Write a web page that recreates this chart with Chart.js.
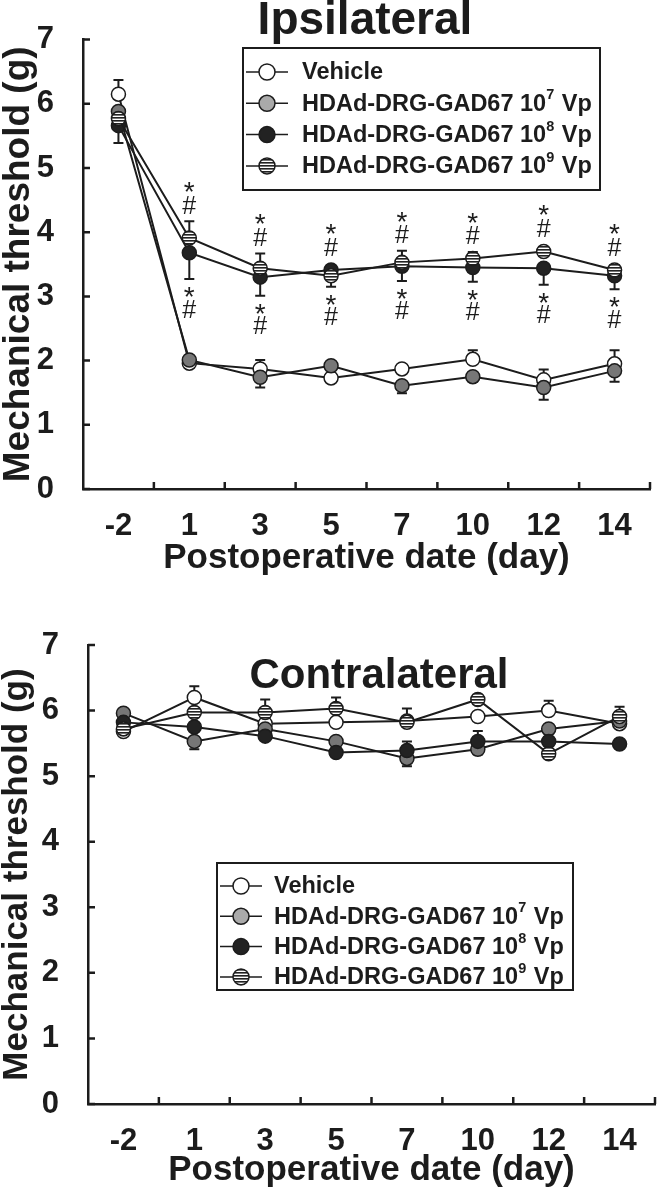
<!DOCTYPE html>
<html>
<head>
<meta charset="utf-8">
<script src="https://cdn.jsdelivr.net/npm/chart.js@4.4.0/dist/chart.umd.min.js"></script>
<style>
  body { margin: 0; background: #fff; }
  .panel { position: absolute; left: 0; width: 666px; }
  #topPanel { top: 0; height: 600px; }
  #bottomPanel { top: 600px; height: 590px; }
</style>
</head>
<body>
<div class="panel" id="topPanel"><canvas id="ipsiChart" width="666" height="600"></canvas></div>
<div class="panel" id="bottomPanel"><canvas id="contraChart" width="666" height="590"></canvas></div>
<script>
// Categories and labels
const days = ['-2', '1', '3', '5', '7', '10', '12', '14'];
const yTicks = [0, 1, 2, 3, 4, 5, 6, 7];
const seriesLabels = ['Vehicle', 'HDAd-DRG-GAD67 10^7 Vp', 'HDAd-DRG-GAD67 10^8 Vp', 'HDAd-DRG-GAD67 10^9 Vp'];

// Ipsilateral (mean, signed SEM: + drawn up, - drawn down)
const ipsiVehicle = [6.15, 1.96, 1.87, 1.73, 1.87, 2.02, 1.70, 1.95];
const ipsiVehicleErr = [0.22, 0.05, 0.14, 0.05, 0.05, 0.14, 0.16, 0.21];
const ipsi7 = [5.88, 2.01, 1.74, 1.92, 1.61, 1.75, 1.58, 1.84];
const ipsi7Err = [-0.10, 0.05, -0.16, 0.05, -0.12, -0.08, -0.19, -0.17];
const ipsi8 = [5.66, 3.68, 3.30, 3.41, 3.47, 3.45, 3.44, 3.32];
const ipsi8Err = [-0.27, -0.41, -0.29, 0.05, -0.23, -0.22, -0.26, -0.21];
const ipsi9 = [5.77, 3.91, 3.44, 3.32, 3.53, 3.59, 3.70, 3.41];
const ipsi9Err = [0.10, 0.26, 0.23, -0.17, 0.18, 0.10, 0.06, 0.08];
const ipsiSigIdx = [1, 2, 3, 4, 5, 6, 7];

// Contralateral
const contraVehicle = [5.68, 6.20, 5.80, 5.82, 5.84, 5.91, 6.00, 5.80];
const contraVehicleErr = [-0.05, 0.17, 0.10, 0.05, 0.05, 0.05, 0.15, 0.05];
const contra7 = [5.96, 5.53, 5.72, 5.53, 5.27, 5.41, 5.72, 5.84];
const contra7Err = [0.05, -0.12, 0.05, 0.05, -0.12, -0.08, 0.05, 0.05];
const contra8 = [5.82, 5.75, 5.61, 5.36, 5.39, 5.53, 5.53, 5.49];
const contra8Err = [0.05, 0.05, -0.05, 0.05, 0.14, 0.16, 0.05, 0.05];
const contra9 = [5.72, 5.97, 5.97, 6.03, 5.82, 6.17, 5.34, 5.91];
const contra9Err = [-0.05, 0.05, 0.20, 0.17, 0.21, 0.07, -0.05, 0.15];

const INK = '#1c1c1c';
const FONT = "'Liberation Sans', Arial, sans-serif";
const NARROW = "'Liberation Sans Narrow', 'Liberation Sans', Arial, sans-serif";

function stripePattern() {
  const c = document.createElement('canvas');
  c.width = 4; c.height = 3;
  const g = c.getContext('2d');
  g.fillStyle = '#fff'; g.fillRect(0, 0, 4, 3);
  g.fillStyle = '#222'; g.fillRect(0, 0, 4, 1);
  g.fillStyle = '#777'; g.fillRect(0, 1, 4, 1);
  return g.createPattern(c, 'repeat');
}
const stripes = stripePattern();
const fills = ['#fff', '#777', '#222', stripes];
const legendFills = ['#fff', '#aaa', '#222', stripes];

function makeDatasets(values, errors) {
  return values.map((v, k) => ({
    label: seriesLabels[k],
    data: v,
    errors: errors[k],
    order: 4 - k,
    borderColor: INK,
    borderWidth: 2,
    pointRadius: 7,
    pointBorderWidth: 1.5,
    pointBorderColor: INK,
    pointBackgroundColor: fills[k],
    tension: 0
  }));
}

// Error bars under the markers
const errorBars = {
  id: 'errorBars',
  beforeDatasetsDraw(chart) {
    const ctx = chart.ctx, y = chart.scales.y;
    ctx.save();
    ctx.strokeStyle = INK;
    ctx.lineWidth = 2;
    chart.data.datasets.forEach((ds, di) => {
      const meta = chart.getDatasetMeta(di);
      ds.errors.forEach((e, i) => {
        const p = meta.data[i];
        const yEnd = y.getPixelForValue(ds.data[i] + e);
        ctx.beginPath();
        ctx.moveTo(p.x, p.y); ctx.lineTo(p.x, yEnd);
        ctx.moveTo(p.x - 5, yEnd); ctx.lineTo(p.x + 5, yEnd);
        ctx.stroke();
      });
    });
    ctx.restore();
  }
};

function drawLabel(ctx, text, x, y) {
  const parts = text.split(/\^(\d)/);
  let cx = x;
  parts.forEach((s, j) => {
    if (j % 2 === 1) {
      ctx.font = 'bold 14.5px ' + FONT;
      ctx.fillText(s, cx, y - 9);
    } else {
      ctx.font = 'bold 23.5px ' + FONT;
      ctx.fillText(s, cx, y);
    }
    cx += ctx.measureText(s).width + (j % 2 === 1 ? 1 : 0);
  });
}

// Title, inner ticks, legend, significance marks
const decorations = {
  id: 'decorations',
  afterDraw(chart, args, o) {
    const ctx = chart.ctx, xs = chart.scales.x, ys = chart.scales.y;
    const area = chart.chartArea;
    ctx.save();
    // inward ticks
    ctx.strokeStyle = INK;
    ctx.lineWidth = 2.5;
    ctx.beginPath();
    yTicks.forEach(v => {
      const py = ys.getPixelForValue(v);
      ctx.moveTo(area.left, py); ctx.lineTo(area.left + 7, py);
    });
    const half = (xs.getPixelForValue(1) - xs.getPixelForValue(0)) / 2;
    days.forEach((d, i) => {
      const px = xs.getPixelForValue(i) + half;
      ctx.moveTo(px, area.bottom); ctx.lineTo(px, area.bottom - 7);
    });
    ctx.stroke();

    // title
    ctx.fillStyle = INK;
    ctx.font = 'bold ' + o.titleSize + 'px ' + FONT;
    ctx.textAlign = 'center';
    ctx.textBaseline = 'alphabetic';
    ctx.fillText(o.title, o.titleX, o.titleY);

    // legend
    const L = o.legend;
    ctx.fillStyle = '#fff';
    ctx.fillRect(L.x, L.y, L.w, L.h);
    ctx.lineWidth = 2;
    ctx.strokeRect(L.x, L.y, L.w, L.h);
    chart.data.datasets.forEach((ds, k) => {
      const ry = L.row0 + k * L.step;
      ctx.lineWidth = 1.5;
      ctx.beginPath();
      ctx.moveTo(L.x + 3, ry); ctx.lineTo(L.x + 45, ry);
      ctx.stroke();
      ctx.beginPath();
      ctx.arc(L.x + 24, ry, 8, 0, Math.PI * 2);
      ctx.fillStyle = legendFills[k];
      ctx.fill();
      ctx.stroke();
      ctx.fillStyle = INK;
      ctx.textAlign = 'left';
      ctx.textBaseline = 'middle';
      drawLabel(ctx, ds.label, L.x + L.textOff, ry + 1);
    });

    // significance marks around the two high-dose groups
    if (o.sig) {
      ctx.fillStyle = INK;
      ctx.textAlign = 'center';
      ctx.textBaseline = 'alphabetic';
      o.sig.forEach(i => {
        let top = Infinity, bot = -Infinity, px = 0;
        [2, 3].forEach(di => {
          const ds = chart.data.datasets[di];
          const p = chart.getDatasetMeta(di).data[i];
          const yEnd = ys.getPixelForValue(ds.data[i] + ds.errors[i]);
          top = Math.min(top, p.y - 7, yEnd);
          bot = Math.max(bot, p.y + 7, yEnd);
          px = p.x;
        });
        ctx.font = '25px ' + FONT;
        ctx.fillText('#', px, top - 16 + 8.5);
        ctx.fillText('#', px, bot + 30 + 8.5);
        ctx.font = '28px ' + FONT;
        ctx.fillText('*', px, top - 36 + 16);
        ctx.fillText('*', px, bot + 11 + 16);
      });
    }
    ctx.restore();
  }
};

function makeChart(id, values, errors, cfg) {
  return new Chart(document.getElementById(id).getContext('2d'), {
    type: 'line',
    data: { labels: days, datasets: makeDatasets(values, errors) },
    plugins: [errorBars, decorations],
    options: {
      responsive: false,
      animation: false,
      devicePixelRatio: 1,
      layout: { padding: cfg.padding },
      plugins: {
        legend: { display: false },
        tooltip: { enabled: false },
        decorations: cfg.deco
      },
      scales: {
        x: {
          type: 'category',
          offset: true,
          grid: { display: false },
          border: { display: true, color: INK, width: 2.5 },
          ticks: { color: INK, padding: 11, font: { family: NARROW, size: 31, weight: 'bold' } },
          title: {
            display: true, text: 'Postoperative date (day)', color: INK,
            padding: { top: 0, bottom: 0 },
            font: { family: FONT, size: 35, weight: 'bold', lineHeight: 1 }
          },
          afterFit: s => { s.height = cfg.xHeight; }
        },
        y: {
          min: 0, max: 7,
          grid: { display: false },
          border: { display: true, color: INK, width: 2.5 },
          afterBuildTicks: s => { s.ticks = yTicks.map(v => ({ value: v })); },
          ticks: { color: INK, padding: 21, font: { family: NARROW, size: 31, weight: 'bold' } },
          title: {
            display: true, text: 'Mechanical threshold (g)', color: INK,
            padding: { top: 0, bottom: 0 },
            font: { family: FONT, size: cfg.yTitleSize, weight: 'bold', lineHeight: 1 }
          },
          afterFit: s => { s.width = cfg.yWidth; }
        }
      }
    }
  });
}

makeChart('ipsiChart',
  [ipsiVehicle, ipsi7, ipsi8, ipsi9],
  [ipsiVehicleErr, ipsi7Err, ipsi8Err, ipsi9Err],
  {
    padding: { left: 0, top: 29, right: 16, bottom: 24 },
    xHeight: 87, yWidth: 83, yTitleSize: 37,
    deco: {
      title: 'Ipsilateral', titleSize: 46, titleX: 365, titleY: 34,
      legend: { x: 243, y: 48, w: 357, h: 142, row0: 72, step: 31.3, textOff: 59 },
      sig: ipsiSigIdx
    }
  });

makeChart('contraChart',
  [contraVehicle, contra7, contra8, contra9],
  [contraVehicleErr, contra7Err, contra8Err, contra9Err],
  {
    padding: { left: 0, top: 45, right: 11, bottom: 2 },
    xHeight: 84, yWidth: 88, yTitleSize: 35,
    deco: {
      title: 'Contralateral', titleSize: 42, titleX: 379, titleY: 88,
      legend: { x: 217, y: 263, w: 356, h: 127, row0: 286, step: 30.3, textOff: 57 }
    }
  });
</script>
</body>
</html>
